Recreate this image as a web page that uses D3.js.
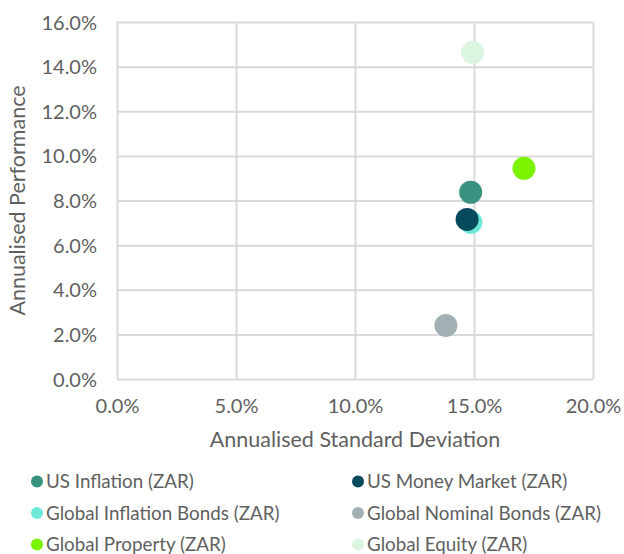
<!DOCTYPE html>
<html><head><meta charset="utf-8">
<script src="https://cdn.jsdelivr.net/npm/d3@7"></script>
<style>body{margin:0;background:#fff;} svg{display:block;font-family:Lato,"Open Sans",sans-serif;}</style>
</head><body>
<svg id="c" width="624" height="554"></svg>
<script>
const seriesNames = ["US Inflation (ZAR)","US Money Market (ZAR)","Global Inflation Bonds (ZAR)","Global Nominal Bonds (ZAR)","Global Property (ZAR)","Global Equity (ZAR)"];
const stdDev = [14.86, 14.71, 14.87, 13.82, 17.10, 14.94];
const performance = [8.37, 7.15, 7.02, 2.40, 9.44, 14.64];
const colors = ["#39917f","#064a5e","#6de9da","#a2b0b4","#7af200","#dcf5e0"];
const xTicks = [0,5,10,15,20];
const yTicks = [0,2,4,6,8,10,12,14,16];

const svg = d3.select("#c");
const L=117,R=593,T=22,B=379;
const x = d3.scaleLinear().domain([0,20]).range([L,R]);
const y = d3.scaleLinear().domain([0,16]).range([B,T]);
const txt = "#5f5f5f", grid="#d9d9d9";

const gx = svg.append("g").attr("transform",`translate(0,${B})`)
  .call(d3.axisBottom(x).tickValues(xTicks).tickSize(-(B-T)).tickPadding(34).tickFormat(d=>d.toFixed(1)+"%"));
const gy = svg.append("g").attr("transform",`translate(${L},0)`)
  .call(d3.axisLeft(y).tickValues(yTicks).tickSize(-(R-L)).tickPadding(20).tickFormat(d=>d.toFixed(1)+"%"));
[gx,gy].forEach(g=>{
  g.select(".domain").remove();
  g.selectAll(".tick line").attr("stroke",grid).attr("stroke-width",2);
  g.selectAll(".tick text").attr("fill",txt).style("font-size","20px").style("font-family","Lato, sans-serif");
});
gy.selectAll(".tick text").attr("dy","0.35em");
gx.selectAll(".tick text").attr("dy","0");

const data = seriesNames.map((n,i)=>({n,sx:stdDev[i],p:performance[i],c:colors[i]}));
svg.append("g").selectAll("circle").data(data.slice().reverse()).join("circle")
  .attr("cx",d=>x(d.sx)).attr("cy",d=>y(d.p)).attr("r",11.5).attr("fill",d=>d.c);

svg.append("text").attr("x",(L+R)/2).attr("y",447).attr("text-anchor","middle")
  .attr("fill",txt).style("font-size","21.5px").text("Annualised Standard Deviation");
svg.append("text").attr("transform",`translate(25,${(T+B)/2}) rotate(-90)`).attr("text-anchor","middle")
  .attr("fill",txt).style("font-size","21.5px").text("Annualised Performance");

const leg = svg.append("g");
data.forEach((d,i)=>{
  const col=i%2, row=Math.floor(i/2);
  const lx = col===0?37:358, ly = 488+row*31.5;
  const g = leg.append("g").attr("transform",`translate(${lx},${ly})`);
  g.append("circle").attr("cy",-6.5).attr("r",6).attr("fill",d.c);
  g.append("text").attr("x",9).attr("fill",txt).style("font-size","18.8px").text(d.n);
});
</script>
</body></html>
